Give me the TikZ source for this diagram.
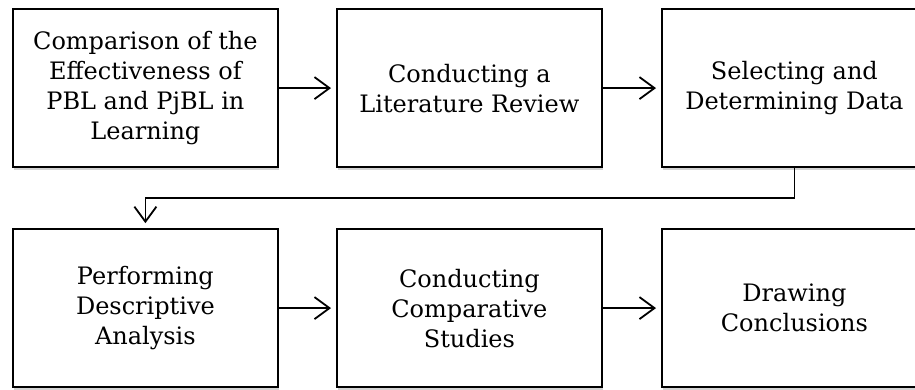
\documentclass[tikz,border=0pt]{standalone}
\usepackage{fontspec}
\setmainfont{DejaVu Serif}
\usetikzlibrary{arrows.meta,shadows}
\tikzset{
  stepbox/.style={draw=black, line width=1.8pt, fill=white, minimum width=265pt, minimum height=158pt,
    inner sep=0pt, align=center, anchor=south west,
    font=\fontsize{24}{30}\selectfont,
    drop shadow={shadow xshift=1.5pt, shadow yshift=-2.5pt, opacity=0.35, fill=gray}},
  flow/.style={draw=black, line width=1.8pt, shorten >=5pt, -{Straight Barb[length=15pt,width=22pt,line width=1.8pt]}}
}
\begin{document}
\begin{tikzpicture}[x=1pt,y=1pt]
\useasboundingbox (0,0) rectangle (915,390);
\clip (0,0) rectangle (915,390);
\node[stepbox] (b1) at (12,222) {Comparison of the\\Effectiveness of\\PBL and PjBL in\\Learning};
\node[stepbox] (b2) at (336,222) {Conducting a\\Literature Review};
\node[stepbox] (b3) at (661,222) {Selecting and\\Determining Data};
\node[stepbox] (b4) at (12,2) {Performing\\Descriptive\\Analysis};
\node[stepbox] (b5) at (336,2) {Conducting\\Comparative\\Studies};
\node[stepbox] (b6) at (661,2) {Drawing\\Conclusions};
\draw[flow] (b1) -- (b2);
\draw[flow] (b2) -- (b3);
\draw[flow] (b4) -- (b5);
\draw[flow] (b5) -- (b6);
\coordinate (turn) at (0,192);
\draw[flow] (b3.south) |- (turn -| b4.north) -- (b4.north);
\end{tikzpicture}
\end{document}
